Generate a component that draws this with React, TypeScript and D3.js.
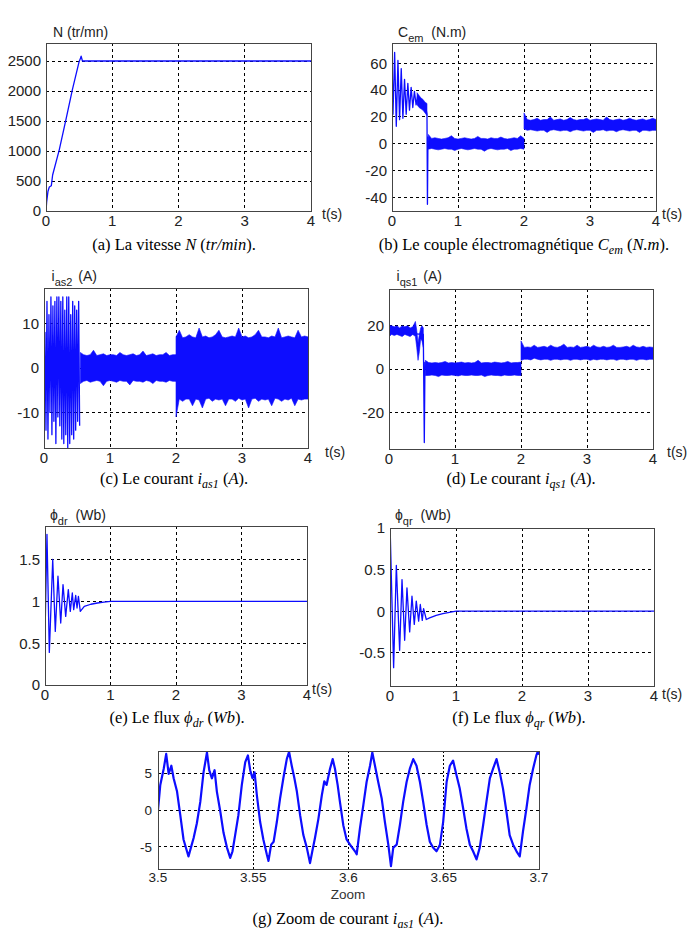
import React from 'react';
import * as d3 from 'd3';

const BLUE = '#0d0dff';
const SANS = '"Liberation Sans", Arial, Helvetica, sans-serif';
const SERIF = '"Liberation Serif", "Times New Roman", serif';

// Echelles de temps communes aux bandes bruitées
const bandT1 = [0.55, 0.6, 0.65, 0.7, 0.75, 0.8, 0.85, 0.9, 0.95, 1, 1.05, 1.1, 1.15, 1.2, 1.25, 1.3, 1.35, 1.4, 1.45, 1.5, 1.55, 1.6, 1.65, 1.7, 1.75, 1.8, 1.85, 1.9, 1.95, 2];
const bandT2 = [2, 2.05, 2.1, 2.15, 2.2, 2.25, 2.3, 2.35, 2.4, 2.45, 2.5, 2.55, 2.6, 2.65, 2.7, 2.75, 2.8, 2.85, 2.9, 2.95, 3, 3.05, 3.1, 3.15, 3.2, 3.25, 3.3, 3.35, 3.4, 3.45, 3.5, 3.55, 3.6, 3.65, 3.7, 3.75, 3.8, 3.85, 3.9, 3.95, 4];

// ticks
const tTicks = [0, 1, 2, 3, 4];
const speedTicks = [0, 500, 1000, 1500, 2000, 2500];
const cemTicks = [-40, -20, 0, 20, 40, 60];
const iasTicks = [-10, 0, 10];
const iqsTicks = [-20, 0, 20];
const fluxDrTicks = [0, 0.5, 1, 1.5];
const fluxQrTicks = [-0.5, 0, 0.5, 1];
const zoomTTicks = [3.5, 3.55, 3.6, 3.65, 3.7];
const zoomVTicks = [-5, 0, 5];

// (a) vitesse
const speedT = [0, 0.01, 0.03, 0.05, 0.08, 0.1, 0.2, 0.3, 0.4, 0.5, 0.52, 0.53, 0.55, 0.6, 1, 2, 3, 4];
const speedN = [0, 150, 330, 400, 420, 600, 1020, 1520, 2030, 2490, 2540, 2580, 2500, 2500, 2500, 2500, 2500, 2500];

// (b) couple
const cemLineT = [0, 0.003, 0.015, 0.04, 0.065, 0.09, 0.115, 0.14, 0.165, 0.19, 0.215, 0.24, 0.265, 0.29, 0.315, 0.34, 0.365, 0.39, 0.415, 0.44, 0.465, 0.49, 0.515, 0.53, 0.537, 0.545, 0.552, 0.56];
const cemLineV = [0, 55, 22, 68, 13, 62, 18, 56, 19, 48, 22, 45, 25, 42, 27, 39, 29, 36, 30, 33, 28, 30, 26, 22, -45, 5, -3, 2];
const cemT0 = [0.38, 0.41, 0.44, 0.47, 0.5, 0.53];
const cemHi0 = [38, 36, 34, 33, 31, 30];
const cemLo0 = [29, 27, 26, 25, 23, 21];
const cemHi1 = [7, 4, 4.5, 4, 3.5, 4, 4.5, 6, 4, 3.5, 4, 4.5, 4, 3.5, 4, 5.5, 4, 4, 3.5, 4.5, 4, 4, 5, 4, 3.5, 4, 4.5, 4, 6, 4];
const cemLo1 = [-4, -3.5, -4, -4.5, -4, -3.5, -4, -4, -5, -4, -3.5, -4, -4.5, -4, -3.5, -4, -4, -5.5, -4, -3.5, -4, -4.5, -4, -4, -3.5, -5, -4, -4, -3.5, -4];
const cemHi2 = [23, 18, 17.5, 18, 19, 17.5, 18, 18, 20, 17.5, 18, 18.5, 17.5, 18, 19.5, 18, 17.5, 18, 18, 19, 17.5, 18, 18.5, 18, 17.5, 20, 18, 17.5, 18, 18.5, 17.5, 18, 19, 18, 17.5, 18, 18.5, 17.5, 18, 19, 18];
const cemLo2 = [11, 10, 10.5, 10, 9.5, 10, 10, 8.5, 10, 10.5, 10, 9.5, 10, 10, 9, 10, 10.5, 10, 9.5, 10, 10, 8.5, 10, 10, 10.5, 9.5, 10, 10, 9, 10, 10.5, 10, 9.5, 10, 10, 8.5, 10, 10, 9.5, 10, 10];

// (c) courant ias
const iasStartT = [0, 0.015, 0.03, 0.045, 0.06, 0.075, 0.09, 0.105, 0.12, 0.135, 0.15, 0.165, 0.18, 0.195, 0.21, 0.225, 0.24, 0.255, 0.27, 0.285, 0.3, 0.315, 0.33, 0.345, 0.36, 0.375, 0.39, 0.405, 0.42, 0.435, 0.45, 0.465, 0.48, 0.495, 0.51, 0.525, 0.54];
const iasStartV = [-9, 8, -14, 15, -16, 12, -10, 16, -15, 14, -12, 15, -17, 16, -11, 16, -13, 15, -16, 16, -17, 13, -15, 16, -18, 16, -17, 12, -15, 15, -16, 14, -14, 13, -12, 15, -13];
const iasHi1 = [3.5, 3, 2.8, 3, 4, 2.8, 3, 3.2, 2.8, 3, 3, 2.8, 3.5, 3, 2.8, 3, 3.2, 2.8, 3, 3.8, 2.8, 3, 3.2, 2.8, 3, 3, 3.5, 2.8, 3, 3];
const iasLo1 = [-3.5, -3, -2.8, -3.2, -3, -2.8, -3, -4, -3, -2.8, -3, -3.2, -2.8, -3, -3, -3.8, -2.8, -3, -3, -3.2, -2.8, -3, -3.5, -2.8, -3, -3, -3.2, -2.8, -3, -3];
const iasHi2 = [7, 8.5, 6.8, 7, 7.5, 7, 6.8, 9, 7, 7.2, 6.8, 7, 7.5, 8.5, 7, 6.8, 7, 7.2, 7, 9, 7, 7.2, 6.8, 7, 7.5, 8.5, 7, 7, 6.8, 7.2, 7, 9, 6.8, 7, 7.2, 7, 6.8, 8.5, 7, 7.2, 7];
const iasLo2 = [-11, -7, -7.5, -7, -7, -8.5, -7, -7.2, -9, -7, -6.8, -7.5, -7, -7.2, -7, -8.5, -7, -7, -7.5, -6.8, -7.2, -7, -9, -7, -6.8, -7.5, -7, -7.2, -7, -8.5, -6.8, -7, -7.5, -7, -7.2, -6.8, -8.5, -7, -7.2, -7, -7];

// (d) courant iqs
const iqsLineT = [0, 0.005, 0.52, 0.535, 0.545, 0.555];
const iqsLineV = [37, 17, 16, -34, 3, 0];
const iqsT0 = [0.005, 0.04, 0.08, 0.12, 0.16, 0.2, 0.24, 0.28, 0.32, 0.36, 0.4, 0.42, 0.44, 0.46, 0.48, 0.5, 0.52];
const iqsHi0 = [20, 20, 19.5, 20, 19, 20, 19.5, 20, 19, 19.5, 22, 18, 12, 16, 19, 20, 19];
const iqsLo0 = [15, 16, 15.5, 16, 15.5, 15, 16, 15.5, 15, 16, 15, 10, 4, 8, 14, 13, 10];
const iqsHi1 = [4, 3, 2.8, 3, 2.8, 3, 3.5, 2.8, 3, 2.8, 3, 3.2, 2.8, 3, 2.8, 3, 4, 2.8, 3, 3, 2.8, 3.2, 3, 2.8, 3, 3.5, 2.8, 3, 3, 3.2];
const iqsLo1 = [-3, -3, -2.8, -3, -3.5, -2.8, -3, -3, -2.8, -3, -3.2, -2.8, -3, -3, -2.8, -3, -3, -2.8, -3.5, -3, -2.8, -3, -3, -3.2, -2.8, -3, -3, -2.8, -3, -3];
const iqsHi2 = [13, 10, 10.2, 10, 11, 10, 10.2, 10.5, 10, 11, 10.2, 10, 10.5, 11.5, 10, 10.2, 10, 11, 10, 10.2, 10.5, 10, 11, 10.2, 10, 10.5, 10, 10.2, 11, 10, 10, 10.2, 10.5, 10, 11, 10.2, 10, 10.5, 10, 10.2, 10];
const iqsLo2 = [4, 4.5, 4.5, 4.2, 5, 4.5, 4.2, 4.5, 4.5, 4, 4.5, 4.5, 4.2, 4.5, 4.5, 4, 4.5, 4.5, 4.2, 4.5, 4.5, 4, 4.5, 4.2, 4.5, 4.5, 4.2, 4.5, 4.5, 4, 4.5, 4.5, 4.2, 4.5, 4.5, 4, 4.5, 4.5, 4.2, 4.5, 4.5];

// (e) flux phi_dr
const fluxDrT = [0, 0.003, 0.03, 0.066, 0.118, 0.157, 0.198, 0.24, 0.275, 0.316, 0.356, 0.386, 0.417, 0.438, 0.469, 0.489, 0.51, 0.539, 0.6, 0.7, 0.8, 0.9, 1, 4];
const fluxDrV = [0, 0.7, 1.8, 0.39, 1.5, 0.64, 1.3, 0.74, 1.2, 0.82, 1.14, 0.88, 1.1, 0.9, 1.07, 0.92, 1.06, 0.88, 0.94, 0.965, 0.98, 0.99, 1, 1];

// (f) flux phi_qr
const fluxQrT = [0, 0.005, 0.055, 0.096, 0.146, 0.182, 0.222, 0.257, 0.298, 0.333, 0.368, 0.398, 0.434, 0.459, 0.489, 0.509, 0.55, 0.6, 0.7, 0.8, 0.9, 1, 4];
const fluxQrV = [0, 0.9, -0.68, 0.55, -0.47, 0.38, -0.35, 0.28, -0.25, 0.18, -0.16, 0.12, -0.12, 0.08, -0.11, 0.03, -0.1, -0.08, -0.05, -0.03, -0.015, 0, 0];

// (g) zoom du courant
const zoomT = [3.5, 3.5012, 3.503, 3.5043, 3.5056, 3.507, 3.5082, 3.51, 3.5117, 3.5134, 3.5152, 3.516, 3.5175, 3.5187, 3.5204, 3.5222, 3.5239, 3.5257, 3.5269, 3.5283, 3.5297, 3.5309, 3.5327, 3.5344, 3.5362, 3.5379, 3.5391, 3.5405, 3.5422, 3.544, 3.5458, 3.5472, 3.5484, 3.5496, 3.5507, 3.5519, 3.5536, 3.5553, 3.5571, 3.558, 3.5594, 3.5607, 3.5624, 3.5641, 3.5658, 3.5676, 3.5688, 3.5702, 3.5716, 3.5729, 3.5746, 3.5763, 3.5781, 3.5798, 3.581, 3.5824, 3.5842, 3.586, 3.5873, 3.5885, 3.5903, 3.5917, 3.5929, 3.5943, 3.5955, 3.5973, 3.599, 3.6008, 3.6034, 3.6043, 3.606, 3.6078, 3.6095, 3.6113, 3.6125, 3.6139, 3.6156, 3.6174, 3.6191, 3.6209, 3.6223, 3.6235, 3.6253, 3.627, 3.6287, 3.6305, 3.6322, 3.634, 3.6357, 3.6375, 3.6392, 3.641, 3.6427, 3.6444, 3.6462, 3.648, 3.6497, 3.6515, 3.6532, 3.6549, 3.6567, 3.6584, 3.6602, 3.6619, 3.6637, 3.6654, 3.6672, 3.6689, 3.6707, 3.6724, 3.6742, 3.6759, 3.6777, 3.6794, 3.6811, 3.6829, 3.6846, 3.6864, 3.6882, 3.6899, 3.6916, 3.6934, 3.6951, 3.6969, 3.6986, 3.6995, 3.7];
const zoomV = [0, 3.4, 5.6, 7.6, 4.9, 6.0, 4.3, 2.5, -0.7, -4.0, -5.6, -6.3, -4.9, -3.8, -1.8, 1.1, 5.1, 7.8, 5.4, 4.3, 5.4, 2.5, -0.2, -3.1, -5.1, -6.5, -5.6, -3.4, -0.7, 3.4, 6.5, 7.4, 5.4, 4.3, 5.1, 2.0, -1.6, -4.0, -6.0, -6.9, -4.7, -4.3, -1.6, 1.6, 4.3, 6.9, 7.9, 6.0, 4.3, 2.5, -0.7, -3.4, -5.1, -7.2, -5.6, -3.8, -1.2, 2.0, 3.9, 3.4, 5.6, 6.9, 5.6, 3.4, 1.1, -2.1, -4.0, -4.7, -5.6, -6.0, -2.5, 0.7, 3.8, 6.0, 7.8, 6.0, 3.8, 1.6, -1.6, -4.7, -7.6, -5.1, -4.7, -2.0, 1.1, 3.8, 5.6, 6.9, 6.0, 3.8, 1.1, -2.0, -4.3, -5.1, -5.6, -4.7, -1.6, 3.8, 6.0, 6.7, 4.7, 2.9, 0.2, -2.5, -4.7, -5.6, -6.7, -5.1, -2.0, 1.1, 4.3, 5.6, 6.9, 5.1, 2.9, -0.2, -3.4, -4.7, -5.6, -6.3, -2.9, 0.2, 3.4, 5.6, 7.4, 8.0, 7.5];

type Series = { t: number[]; v: number[] };
type Band = { t: number[]; hi: number[]; lo: number[] };
type Box = { left: number; right: number; top: number; bottom: number };

type PanelProps = {
  id: string;
  box: Box;
  xDomain: [number, number];
  yDomain: [number, number];
  xTicks: number[];
  yTicks: number[];
  lines?: Series[];
  bands?: Band[];
  tickFont?: number;
  xLabelOffset?: number;
  yLabelGap?: number;
  vDash?: string;
  lineWidth?: number;
};

function Panel({
  id, box, xDomain, yDomain, xTicks, yTicks, lines = [], bands = [],
  tickFont = 15, xLabelOffset = 15, yLabelGap = 5, vDash = '3,3', lineWidth = 1.3,
}: PanelProps) {
  const x = d3.scaleLinear().domain(xDomain).range([box.left, box.right]);
  const y = d3.scaleLinear().domain(yDomain).range([box.bottom, box.top]);
  const lineGen = d3.line<[number, number]>().x(d => x(d[0])).y(d => y(d[1]));
  const areaGen = d3.area<[number, number, number]>()
    .x(d => x(d[0])).y0(d => y(d[2])).y1(d => y(d[1]));

  const xGrid = xTicks.filter(t => x(t) > box.left + 1 && x(t) < box.right - 1);
  const yGrid = yTicks.filter(v => y(v) > box.top + 1 && y(v) < box.bottom - 1);

  return (
    <g>
      <defs>
        <clipPath id={id}>
          <rect x={box.left} y={box.top} width={box.right - box.left} height={box.bottom - box.top} />
        </clipPath>
      </defs>
      {/* grille */}
      <g stroke="#000" strokeWidth={1} shapeRendering="crispEdges">
        {xGrid.map(t => (
          <line key={'gx' + t} x1={x(t)} x2={x(t)} y1={box.top} y2={box.bottom} strokeDasharray={vDash} />
        ))}
        {yGrid.map(v => (
          <line key={'gy' + v} x1={box.left} x2={box.right} y1={y(v)} y2={y(v)} strokeDasharray="3,3" />
        ))}
      </g>
      <g clipPath={`url(#${id})`}>
        {bands.map((b, i) => (
          <path key={'b' + i} d={areaGen(b.t.map((t, j) => [t, b.hi[j], b.lo[j]] as [number, number, number])) || ''}
            fill={BLUE} stroke={BLUE} strokeWidth={0.6} />
        ))}
        {lines.map((s, i) => (
          <path key={'l' + i} d={lineGen(s.t.map((t, j) => [t, s.v[j]] as [number, number])) || ''}
            fill="none" stroke={BLUE} strokeWidth={lineWidth} strokeLinejoin="round" />
        ))}
      </g>
      <rect x={box.left} y={box.top} width={box.right - box.left} height={box.bottom - box.top}
        fill="none" stroke="#444" strokeWidth={1} shapeRendering="crispEdges" />
      <g fontFamily={SANS} fontSize={tickFont} fill="#222">
        {xTicks.map(t => (
          <text key={'tx' + t} x={x(t)} y={box.bottom + xLabelOffset} textAnchor="middle">{String(t)}</text>
        ))}
        {yTicks.map(v => (
          <text key={'ty' + v} x={box.left - yLabelGap} y={y(v)} dy="0.36em" textAnchor="end">{String(v)}</text>
        ))}
      </g>
    </g>
  );
}

function Label({ x, y, main, sub, unit, gap = 4 }: { x: number; y: number; main: string; sub?: string; unit: string; gap?: number }) {
  return (
    <text x={x} y={y} fontFamily={SANS} fontSize={14} fill="#222">
      {main}
      {sub && <tspan dy={5} fontSize={11}>{sub}</tspan>}
      <tspan dy={sub ? -5 : 0} dx={sub ? gap : 0}>{' ' + unit}</tspan>
    </text>
  );
}

function Caption({ x, y, children }: { x: number; y: number; children: React.ReactNode }) {
  return (
    <text x={x} y={y} textAnchor="middle" fontFamily={SERIF} fontSize={16.5} fill="#000">{children}</text>
  );
}

const It = ({ children }: { children: React.ReactNode }) => <tspan fontStyle="italic">{children}</tspan>;
const Sub = ({ children }: { children: React.ReactNode }) => (
  <tspan dy={3.5} fontSize={12} fontStyle="italic">{children}</tspan>
);
const Up = ({ children }: { children: React.ReactNode }) => <tspan dy={-3.5}>{children}</tspan>;

const TS = ({ x, y }: { x: number; y: number }) => (
  <text x={x} y={y} fontFamily={SANS} fontSize={14} fill="#222">t(s)</text>
);

export default function App() {
  return (
    <svg width={693} height={936} style={{ position: 'absolute', left: 0, top: 0, display: 'block' }}>
      <rect width={693} height={936} fill="#fff" />

      {/* (a) */}
      <Panel id="ca" box={{ left: 46, right: 311, top: 43, bottom: 211 }} xDomain={[0, 4]} yDomain={[0, 2800]}
        xTicks={tTicks} yTicks={speedTicks} lines={[{ t: speedT, v: speedN }]} />
      <Label x={53} y={37} main="N" unit="(tr/mn)" gap={0} />
      <TS x={322} y={219} />
      <Caption x={174} y={250}>{'(a) La vitesse '}<It>N</It>{' ('}<It>tr/min</It>{').'}</Caption>

      {/* (b) */}
      <Panel id="cb" box={{ left: 392, right: 656, top: 43, bottom: 211 }} xDomain={[0, 4]} yDomain={[-50, 75]}
        xTicks={tTicks} yTicks={cemTicks}
        bands={[
          { t: cemT0, hi: cemHi0, lo: cemLo0 },
          { t: bandT1, hi: cemHi1, lo: cemLo1 },
          { t: bandT2, hi: cemHi2, lo: cemLo2 },
        ]}
        lines={[{ t: cemLineT, v: cemLineV }]} />
      <Label x={398} y={36.5} main="C" sub="em" unit="(N.m)" />
      <TS x={662} y={219} />
      <Caption x={524} y={250}>{'(b) Le couple électromagnétique '}<It>C</It><Sub>em</Sub><Up>{' ('}</Up><It>N.m</It>{').'}</Caption>

      {/* (c) */}
      <Panel id="cc" box={{ left: 44, right: 308, top: 288, bottom: 448 }} xDomain={[0, 4]} yDomain={[-18, 18]}
        xTicks={tTicks} yTicks={iasTicks}
        bands={[
          { t: bandT1, hi: iasHi1, lo: iasLo1 },
          { t: bandT2, hi: iasHi2, lo: iasLo2 },
        ]}
        lines={[{ t: iasStartT, v: iasStartV }]} />
      <Label x={51.5} y={281} main="i" sub="as2" unit="(A)" gap={2} />
      <TS x={325} y={457} />
      <Caption x={174} y={484}>{'(c) Le courant '}<It>i</It><Sub>as1</Sub><Up>{' ('}</Up><It>A</It>{').'}</Caption>

      {/* (d) */}
      <Panel id="cd" box={{ left: 389, right: 653, top: 289, bottom: 449 }} xDomain={[0, 4]} yDomain={[-37, 37]}
        xTicks={tTicks} yTicks={iqsTicks}
        bands={[
          { t: iqsT0, hi: iqsHi0, lo: iqsLo0 },
          { t: bandT1, hi: iqsHi1, lo: iqsLo1 },
          { t: bandT2, hi: iqsHi2, lo: iqsLo2 },
        ]}
        lines={[{ t: iqsLineT, v: iqsLineV }]} />
      <Label x={396.5} y={281} main="i" sub="qs1" unit="(A)" gap={2} />
      <TS x={667} y={457} />
      <Caption x={521} y={484}>{'(d) Le courant '}<It>i</It><Sub>qs1</Sub><Up>{' ('}</Up><It>A</It>{').'}</Caption>

      {/* (e) */}
      <Panel id="ce" box={{ left: 45, right: 307, top: 526, bottom: 685 }} xDomain={[0, 4]} yDomain={[0, 1.9]}
        xTicks={tTicks} yTicks={fluxDrTicks} lines={[{ t: fluxDrT, v: fluxDrV }]} />
      <Label x={50} y={520} main={'\u03D5'} sub="dr" unit="(Wb)" gap={4} />
      <TS x={312} y={694} />
      <Caption x={177} y={723}>{'(e) Le flux '}<It>{'\u03D5'}</It><Sub>dr</Sub><Up>{' ('}</Up><It>Wb</It>{').'}</Caption>

      {/* (f) */}
      <Panel id="cf" box={{ left: 390, right: 654, top: 528, bottom: 686 }} xDomain={[0, 4]} yDomain={[-0.9, 1]}
        xTicks={tTicks} yTicks={fluxQrTicks} lines={[{ t: fluxQrT, v: fluxQrV }]} />
      <Label x={395} y={520} main={'\u03D5'} sub="qr" unit="(Wb)" gap={4} />
      <TS x={662} y={699} />
      <Caption x={519} y={723}>{'(f) Le flux '}<It>{'\u03D5'}</It><Sub>qr</Sub><Up>{' ('}</Up><It>Wb</It>{').'}</Caption>

      {/* (g) */}
      <Panel id="cg" box={{ left: 158, right: 539, top: 751, bottom: 869 }} xDomain={[3.5, 3.7]} yDomain={[-8, 8]}
        xTicks={zoomTTicks} yTicks={zoomVTicks} tickFont={13.5} xLabelOffset={13} yLabelGap={6} vDash="2,2"
        lineWidth={2.2} lines={[{ t: zoomT, v: zoomV }]} />
      <text x={348} y={899} textAnchor="middle" fontFamily={SANS} fontSize={13.5} fill="#333">Zoom</text>
      <Caption x={348} y={924}>{'(g) Zoom de courant '}<It>i</It><Sub>as1</Sub><Up>{' ('}</Up><It>A</It>{').'}</Caption>
    </svg>
  );
}
